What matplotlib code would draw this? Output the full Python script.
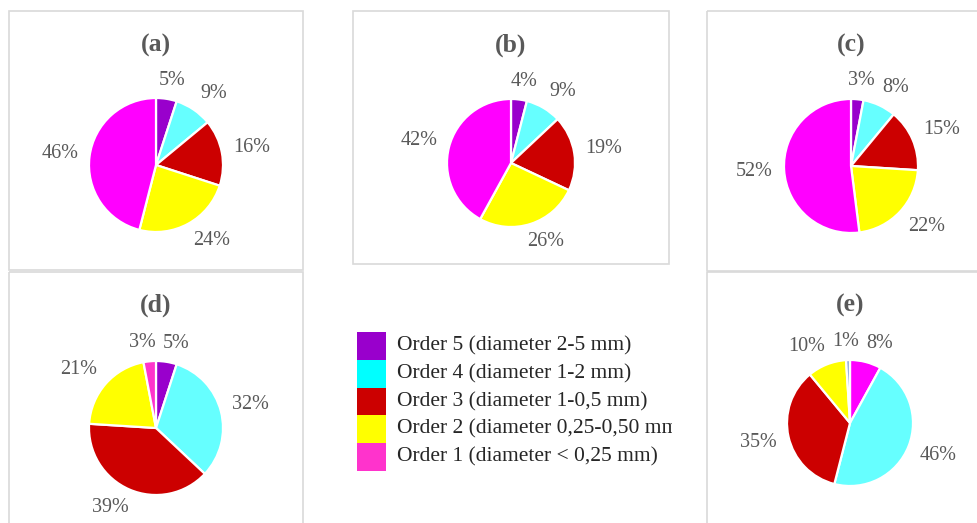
import matplotlib
matplotlib.use("Agg")
import matplotlib.pyplot as plt
from matplotlib.patches import Rectangle
import numpy as np

plt.rcParams["font.family"] = ["Liberation Serif", "DejaVu Serif"]

W, H, DPI = 977, 523, 100

# colours
PURPLE = "#9900CC"
CYAN = "#66FFFF"
RED = "#CC0000"
YELLOW = "#FFFF00"
MAGENTA = "#FF00FF"
PINK = "#FF33CC"
STEEL = "#8FAADC"
TEXT_GREY = "#595959"
BORDER = "#D9D9D9"

# data (percent share per diameter class)
titles = ["(a)", "(b)", "(c)", "(d)", "(e)"]
shares_a = [5, 9, 16, 24, 46]
shares_b = [4, 9, 19, 26, 42]
shares_c = [3, 8, 15, 22, 52]
shares_d = [5, 32, 39, 21, 3]
shares_e = [8, 46, 35, 10, 1]
colors_abc = [PURPLE, CYAN, RED, YELLOW, MAGENTA]
colors_d = [PURPLE, CYAN, RED, YELLOW, PINK]
colors_e = [MAGENTA, CYAN, RED, YELLOW, STEEL]

legend_labels = [
    "Order 5 (diameter 2-5 mm)",
    "Order 4 (diameter 1-2 mm)",
    "Order 3 (diameter 1-0,5 mm)",
    "Order 2 (diameter 0,25-0,50 mm)",
    "Order 1 (diameter < 0,25 mm)",
]
legend_colors = ["#9900CC", "#00FFFF", "#CC0000", "#FFFF00", "#FF33CC"]

# layout in pixels (x right, y down)
panels = [
    dict(vals=shares_a, cols=colors_abc, c=(156, 165), r=67, box=(9, 11, 303, 270), ty=45),
    dict(vals=shares_b, cols=colors_abc, c=(511, 163), r=64, box=(353, 11, 669, 264), ty=45),
    dict(vals=shares_c, cols=colors_abc, c=(851, 166), r=67, box=(707, 11, 990, 271), ty=45),
    dict(vals=shares_d, cols=colors_d, c=(156, 428), r=67, box=(9, 272, 303, 530), ty=305),
    dict(vals=shares_e, cols=colors_e, c=(850, 423), r=63, box=(707, 272, 990, 530), ty=305),
]

fig = plt.figure(figsize=(W / DPI, H / DPI), dpi=DPI)
fig.patch.set_facecolor("white")

# frames and titles, in pixel coordinates
bg = fig.add_axes([0, 0, 1, 1])
bg.set_xlim(0, W)
bg.set_ylim(H, 0)
bg.axis("off")
for title, p in zip(titles, panels):
    x0, y0, x1, y1 = p["box"]
    bg.add_patch(Rectangle((x0, y0), x1 - x0, y1 - y0, fill=False,
                           edgecolor=BORDER, linewidth=1.2))
    bg.text(p["c"][0], p["ty"], title, ha="center", va="center",
            fontsize=18.5, fontweight="bold", color=TEXT_GREY)

LABEL_FS = 14.5
em_px = LABEL_FS * DPI / 72.0
GAP = 11.5
HH = 7.0
PAD = 7.0
K = 2.0


def text_width_px(s):
    w = 0.0
    for ch in s:
        w += 0.833 if ch == "%" else 0.5
    return w * em_px


def place_labels(theta, labels, r):
    """Outside-end label centres (px, y up) with simple horizontal de-overlap."""
    pos = []
    for th, lab in zip(theta, labels):
        hw = text_width_px(lab) / 2
        c, s = np.cos(th), np.sin(th)
        x = (r + GAP) * c + hw * np.clip(K * c, -1, 1)
        y = (r + GAP) * s + HH * np.clip(K * s, -1, 1)
        pos.append([x, y, hw])
    for _ in range(50):
        moved = False
        for i in range(len(pos)):
            for j in range(i + 1, len(pos)):
                xi, yi, wi = pos[i]
                xj, yj, wj = pos[j]
                if abs(yi - yj) > 2 * HH + 4:
                    continue
                need = wi + wj + PAD
                dx = xj - xi
                if abs(dx) < need:
                    push = (need - abs(dx)) / 2 + 0.1
                    sg = 1 if dx >= 0 else -1
                    pos[i][0] -= sg * push
                    pos[j][0] += sg * push
                    moved = True
        if not moved:
            break
    return pos


HALF = 100  # half size of each pie axes in pixels; 1 data unit = 100 px
for p in panels:
    cx, cy = p["c"]
    ax = fig.add_axes([(cx - HALF) / W, 1 - (cy + HALF) / H, 2 * HALF / W, 2 * HALF / H])
    wedges, _ = ax.pie(p["vals"], colors=p["cols"], startangle=90, counterclock=False,
                       radius=p["r"] / HALF,
                       wedgeprops=dict(edgecolor="white", linewidth=1.6))
    ax.set_xlim(-1, 1)
    ax.set_ylim(-1, 1)
    ax.axis("off")
    labels = [f"{v}%" for v in p["vals"]]
    theta = [np.deg2rad((w.theta1 + w.theta2) / 2) for w in wedges]
    for (x, y, _), lab in zip(place_labels(theta, labels, p["r"]), labels):
        ax.text(x / HALF, y / HALF, lab, ha="center", va="center",
                fontsize=LABEL_FS, color=TEXT_GREY, clip_on=False)

# legend block, clipped on its right side
lg = fig.add_axes([340 / W, 1 - 485 / H, (672 - 340) / W, (485 - 320) / H])
lg.set_xlim(340, 672)
lg.set_ylim(485, 320)
lg.axis("off")
row_h = 27.8
top = 332
for i, (lab, col) in enumerate(zip(legend_labels, legend_colors)):
    lg.add_patch(Rectangle((357, top + i * row_h), 29, row_h, facecolor=col, edgecolor="none"))
    lg.text(397, top + (i + 0.5) * row_h, lab, ha="left", va="center",
            fontsize=15.5, color="#262626", clip_on=True)

fig.savefig("out.png", dpi=DPI, facecolor="white")
